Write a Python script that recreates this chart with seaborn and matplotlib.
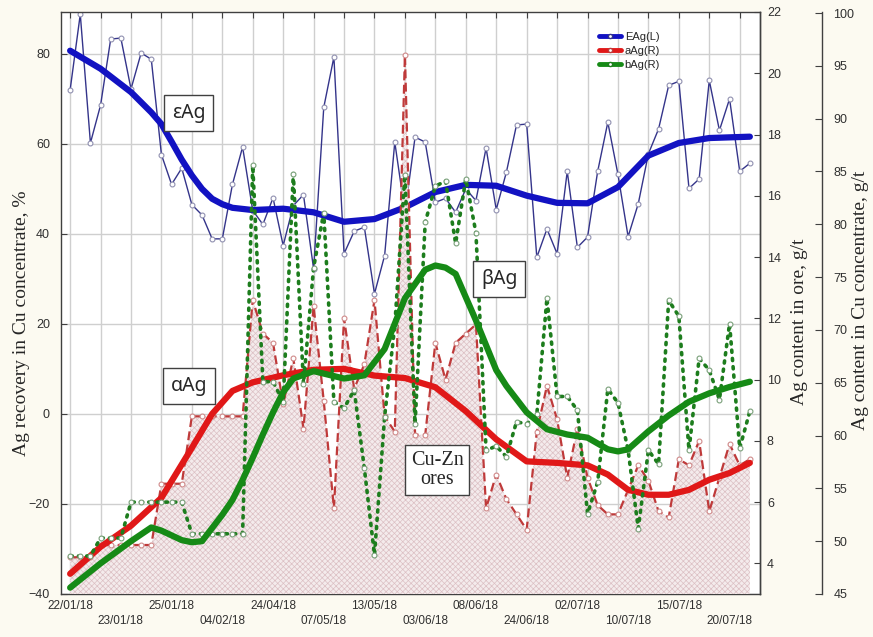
import matplotlib
matplotlib.use("Agg")
import numpy as np
import matplotlib.pyplot as plt
import seaborn as sns
from matplotlib.lines import Line2D

# case labels shown under the x axis (every 5th sample)
dates = ["22/01/18", "23/01/18", "25/01/18", "04/02/18", "24/04/18", "07/05/18", "13/05/18",
         "03/06/18", "08/06/18", "24/06/18", "02/07/18", "10/07/18", "15/07/18", "20/07/18"]

# Ag recovery in Cu concentrate, % (left axis)
e_ag = [72.0, 88.8, 60.2, 68.6, 83.3, 83.5, 72.2, 80.2, 78.8, 57.6,
        51.0, 54.6, 46.5, 44.2, 38.9, 38.9, 51.0, 59.3, 45.2, 42.1,
        48.0, 37.4, 46.3, 48.7, 32.2, 68.1, 79.3, 35.6, 40.6, 41.5,
        26.7, 35.2, 60.4, 44.8, 61.5, 60.4, 47.0, 47.9, 44.8, 50.0,
        47.4, 59.1, 45.4, 53.7, 64.2, 64.4, 34.8, 41.1, 35.6, 53.9,
        37.0, 39.3, 53.9, 64.8, 53.2, 39.4, 46.7, 57.8, 63.3, 73.0,
        73.9, 50.1, 52.2, 74.1, 63.0, 70.0, 53.9, 55.7]

# Ag content in ore, g/t (inner right axis)
a_ag = [4.2, 4.2, 4.2, 4.6, 4.6, 4.6, 4.6, 4.6, 4.6, 6.6,
        6.6, 6.6, 8.8, 8.8, 8.8, 8.8, 8.8, 8.8, 12.6, 11.5,
        11.2, 9.2, 10.7, 8.4, 12.4, 9.3, 5.8, 12.0, 9.7, 10.5,
        12.6, 8.8, 8.3, 20.6, 8.2, 8.2, 11.2, 10.0, 11.2, 11.5,
        11.8, 5.8, 6.9, 6.1, 5.6, 5.1, 8.3, 9.8, 8.7, 6.8,
        8.4, 6.8, 5.9, 5.6, 5.6, 6.4, 7.2, 6.7, 5.7, 5.5,
        7.4, 7.2, 8.0, 5.7, 6.8, 7.9, 7.2, 7.4]

# Ag content in Cu concentrate, g/t (outer right axis)
b_ag = [48.6, 48.6, 48.6, 50.3, 50.3, 50.3, 53.7, 53.7, 53.7, 53.7,
        53.7, 53.7, 50.7, 50.7, 50.7, 50.7, 50.7, 50.7, 85.6, 65.1,
        65.1, 63.2, 84.8, 64.9, 75.9, 81.1, 63.2, 62.6, 64.3, 56.9,
        48.7, 61.8, 70.4, 84.7, 61.1, 80.2, 83.6, 84.1, 78.2, 84.3,
        79.2, 58.6, 59.0, 58.0, 61.3, 61.1, 62.0, 73.0, 63.7, 63.7,
        62.4, 52.6, 55.6, 64.4, 63.1, 58.6, 51.2, 58.6, 57.3, 72.8,
        71.3, 58.6, 67.3, 66.2, 63.4, 70.6, 58.8, 62.3]

# smoothed fits
e_fit_x = [0, 3, 6, 8, 9, 10, 11, 12, 13, 14, 15, 16, 18, 21, 24, 27, 30, 33, 36, 39,
           42, 45, 48, 51, 54, 57, 60, 63, 67]
e_fit = [80.7, 76.7, 71.5, 67.0, 64.4, 60.5, 56.5, 53.0, 50.0, 47.8, 46.6, 45.8, 45.3, 45.6,
         44.8, 42.7, 43.3, 45.9, 49.3, 50.9, 50.7, 48.5, 46.9, 46.8, 50.4, 57.4, 60.2, 61.3, 61.6]

a_fit_x = [0, 3, 6, 9, 12, 14, 16, 18, 21, 24, 27, 30, 33, 36, 39, 42, 45, 48, 51, 53,
           55, 57, 59, 61, 63, 65, 67]
a_fit = [3.66, 4.54, 5.23, 6.14, 7.77, 8.88, 9.63, 9.91, 10.14, 10.32, 10.35, 10.13, 10.05,
         9.75, 8.97, 8.05, 7.33, 7.28, 7.20, 6.90, 6.40, 6.24, 6.24, 6.40, 6.73, 6.95, 7.28]

b_fit_x = [0, 3, 6, 8, 9, 11, 12, 13, 15, 16, 17, 18, 19, 20, 21, 22, 24, 27, 29, 31,
           33, 35, 36, 37, 38, 40, 42, 43, 45, 47, 49, 51, 53, 54, 55, 57, 59, 61, 63, 65, 67]
b_fit = [45.6, 47.9, 50.0, 51.3, 51.0, 50.1, 49.9, 50.0, 52.5, 53.9, 55.8, 57.9, 60.1, 62.2,
         64.1, 65.4, 66.1, 65.4, 65.7, 68.2, 73.0, 75.7, 76.1, 75.9, 75.3, 70.9, 66.2, 64.7,
         62.2, 60.6, 60.1, 59.8, 58.7, 58.5, 58.7, 60.4, 61.9, 63.2, 64.0, 64.6, 65.1]

sns.set_style("white")
plt.rcParams["font.family"] = ["Liberation Sans", "DejaVu Sans"]
plt.rcParams["hatch.linewidth"] = 0.5

BLUE_THIN = "#34348a"
BLUE = "#1212c2"
RED_THIN = "#bf3a3a"
RED = "#e01818"
GREEN_THIN = "#1d7d1d"
GREEN = "#168a16"
SERIF = ["Liberation Serif", "DejaVu Serif"]

n = np.arange(len(e_ag))

fig = plt.figure(figsize=(8.73, 6.37), dpi=100, facecolor="#fcfaf1")
ax = fig.add_axes([61 / 873, 43 / 637, 699 / 873, 582 / 637])
ax.set_facecolor("white")
ax_r = ax.twinx()
ax_g = ax.twinx()
ax_g.spines["right"].set_position(("axes", 1.089))

# blue: recovery
sns.lineplot(x=n, y=e_ag, ax=ax, color=BLUE_THIN, lw=1.0, marker="o", ms=3.5,
             mfc="white", mec="#9090b0", mew=0.8, legend=False)
sns.lineplot(x=e_fit_x, y=e_fit, ax=ax, color=BLUE, lw=4.5, legend=False,
             solid_capstyle="round")

# red: ore content
ax_r.fill_between(n, 3, a_ag, facecolor="#f4ebec", hatch="xxxxxx",
                  edgecolor="#dcc0c4", lw=0)
sns.lineplot(x=n, y=a_ag, ax=ax_r, color=RED_THIN, lw=1.6, ls=(0, (4, 2)),
             marker="o", ms=3.5, mfc="white", mec="#d08a8a", mew=0.8, legend=False)
sns.lineplot(x=a_fit_x, y=a_fit, ax=ax_r, color=RED, lw=4.5, legend=False,
             solid_capstyle="round")

# green: concentrate content
sns.lineplot(x=n, y=b_ag, ax=ax_g, color=GREEN_THIN, lw=2.6, ls=(0, (0.6, 1.7)),
             dash_capstyle="round", marker="o", ms=3.5, mfc="white", mec="#7aa07a",
             mew=0.8, legend=False)
sns.lineplot(x=b_fit_x, y=b_fit, ax=ax_g, color=GREEN, lw=4.5, legend=False,
             solid_capstyle="round")

# limits and ticks
ax.set_xlim(-0.9, 68)
ax.set_ylim(-40, 89.3)
ax_r.set_ylim(3, 21.95)
ax_g.set_ylim(45, 100.1)

ax.set_yticks(range(-40, 81, 20))
ax_r.set_yticks(range(4, 23, 2))
ax_g.set_yticks(range(45, 101, 5))

ax.xaxis.remove_overlapping_locs = False
ax.set_xticks(range(0, 68, 3))
ax.set_xticklabels([])
ax.set_xticks(range(0, 68, 5), minor=True)
ax.set_xticklabels([d if i % 2 == 0 else "\n" + d for i, d in enumerate(dates)],
                   minor=True, linespacing=1.35)
ax.tick_params(axis="x", which="major", direction="in", top=True, length=4,
               color="#404040")
ax.tick_params(axis="x", which="minor", length=0, pad=4, labelsize=8.5,
               labelcolor="#303030")
ax.tick_params(axis="y", direction="in", length=4, labelsize=9, labelcolor="#303030",
               color="#404040", pad=8)
ax_r.tick_params(axis="y", direction="in", length=4, labelsize=9, labelcolor="#303030",
                 color="#404040", pad=5)
ax_g.tick_params(axis="y", direction="in", length=5, labelsize=9, labelcolor="#303030",
                 color="#404040", pad=8)

ax.grid(True, which="major", color="#cfcfcf", lw=1)

for a in (ax, ax_r, ax_g):
    for s in a.spines.values():
        s.set_color("#404040")
        s.set_linewidth(1)
for a in (ax_r, ax_g):
    for side in ("left", "top", "bottom"):
        a.spines[side].set_visible(False)

ax.set_xlabel("")
ax.set_ylabel("Ag recovery in Cu concentrate, %", family=SERIF, fontsize=14)
ax.yaxis.set_label_coords(-0.044, 0.466)
ax_r.set_ylabel("Ag content in ore, g/t", family=SERIF, fontsize=14)
ax_r.yaxis.set_label_coords(1.045, 0.467)
ax_g.set_ylabel("Ag content in Cu concentrate, g/t", family=SERIF, fontsize=14)
ax_g.yaxis.set_label_coords(1.131, 0.505)

# boxed annotations
box = dict(boxstyle="square,pad=0.4", facecolor="white", edgecolor="#404040", lw=1)
for txt, x, y in [("εAg", 0.183, 0.826), ("αAg", 0.183, 0.357), ("βAg", 0.627, 0.541)]:
    ax_g.text(x, y, txt, transform=ax_g.transAxes, ha="center", va="center",
              fontsize=14, family=["Noto Sans", "DejaVu Sans"], bbox=box, zorder=10)
ax_g.text(0.538, 0.213, "Cu-Zn\nores", transform=ax_g.transAxes, ha="center",
          va="center", fontsize=14.5, family=SERIF, linespacing=0.95,
          bbox=dict(boxstyle="square,pad=0.3", facecolor="white", edgecolor="#404040",
                    lw=1), zorder=10)

# legend
handles = [
    Line2D([], [], color=BLUE, lw=3.5, marker="o", ms=3, mfc="white", mec=BLUE_THIN),
    Line2D([], [], color=RED, lw=3.5, marker="o", ms=3, mfc="white", mec=RED_THIN),
    Line2D([], [], color=GREEN, lw=3.5, marker="o", ms=3, mfc="white", mec=GREEN_THIN),
]
ax_g.legend(handles, ["EAg(L)", "aAg(R)", "bAg(R)"], loc="upper left",
            bbox_to_anchor=(0.762, 0.975), frameon=False, fontsize=8,
            handlelength=2.0, handletextpad=0.3, labelspacing=0.35, borderpad=0)

fig.savefig("out.png", dpi=100, facecolor=fig.get_facecolor())
